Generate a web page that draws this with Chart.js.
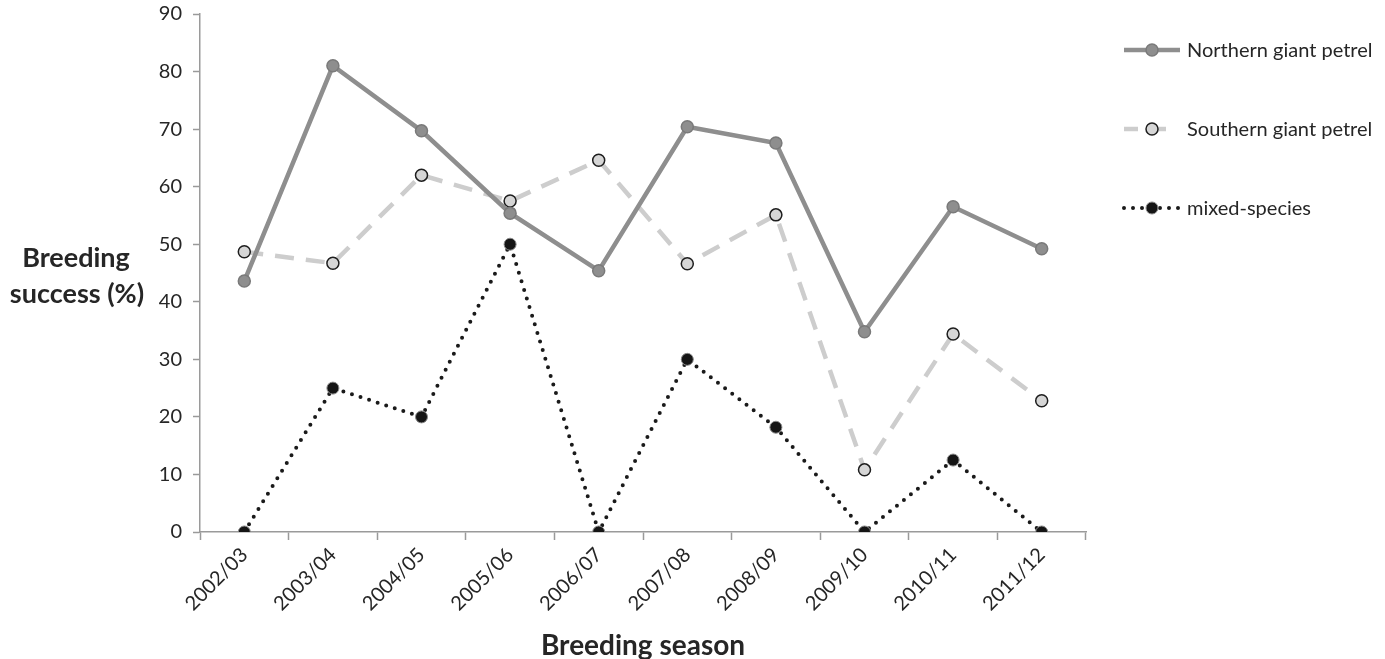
<!DOCTYPE html>
<html>
<head>
<meta charset="utf-8">
<script src="https://cdn.jsdelivr.net/npm/chart.js@4"></script>
<style>
  body { margin: 0; background: #fff; }
  #wrap { width: 1385px; height: 659px; position: relative; }
</style>
</head>
<body>
<div id="wrap"><canvas id="chart"></canvas></div>
<script>
const seasons = ['2002/03', '2003/04', '2004/05', '2005/06', '2006/07', '2007/08', '2008/09', '2009/10', '2010/11', '2011/12'];
const northern = [43.6, 81, 69.7, 55.4, 45.4, 70.4, 67.6, 34.8, 56.5, 49.2];
const southern = [48.7, 46.7, 62, 57.5, 64.6, 46.6, 55.1, 10.8, 34.4, 22.8];
const mixed = [0, 25, 20, 50, 0, 30, 18.2, 0, 12.5, 0];
const yTicks = [0, 10, 20, 30, 40, 50, 60, 70, 80, 90];

const FONT = 'Lato, "Open Sans", sans-serif';
const TEXT = '#262626';
const AXIS = '#9a9a9a';

// legend + horizontal y title, drawn by hand
const sidePlugin = {
  id: 'side',
  afterDraw(chart) {
    const ctx = chart.ctx;
    ctx.save();
    // y title
    ctx.fillStyle = TEXT;
    ctx.font = 'bold 27px ' + FONT;
    ctx.textAlign = 'center';
    ctx.textBaseline = 'middle';
    ctx.fillText('Breeding', 76, 258);
    ctx.fillText('success (%)', 77, 294);

    // legend
    const rows = [50, 129, 208];
    chart.data.datasets.forEach((ds, i) => {
      const y = rows[i];
      ctx.strokeStyle = ds.borderColor;
      ctx.lineWidth = ds.borderWidth;
      ctx.lineCap = ds.borderCapStyle || 'butt';
      ctx.setLineDash(ds.legendDash || ds.borderDash || []);
      ctx.beginPath();
      ctx.moveTo(1124, y);
      ctx.lineTo(1180, y);
      ctx.stroke();
      ctx.setLineDash([]);
      ctx.beginPath();
      ctx.arc(1152, y, ds.pointRadius, 0, Math.PI * 2);
      ctx.fillStyle = ds.pointBackgroundColor;
      ctx.fill();
      ctx.lineWidth = ds.pointBorderWidth;
      ctx.strokeStyle = ds.pointBorderColor;
      ctx.stroke();
      ctx.fillStyle = TEXT;
      ctx.font = '20px ' + FONT;
      ctx.textAlign = 'left';
      ctx.fillText(ds.label, 1187, y + 1);
    });
    ctx.restore();
  }
};

new Chart(document.getElementById('chart'), {
  type: 'line',
  data: {
    labels: seasons,
    datasets: [
      {
        label: 'Northern giant petrel',
        data: northern,
        borderColor: '#8e8e8e',
        borderWidth: 4.5,
        pointRadius: 6,
        pointBackgroundColor: '#8e8e8e',
        pointBorderColor: '#7a7a7a',
        pointBorderWidth: 1.5,
        tension: 0
      },
      {
        label: 'Southern giant petrel',
        data: southern,
        borderColor: '#cdcdcd',
        borderWidth: 4.5,
        borderDash: [19, 12],
        legendDash: [14, 14],
        pointRadius: 6,
        pointBackgroundColor: '#d6d6d6',
        pointBorderColor: '#1e1e1e',
        pointBorderWidth: 1.5,
        tension: 0
      },
      {
        label: 'mixed-species',
        data: mixed,
        borderColor: '#1a1a1a',
        borderWidth: 4,
        borderDash: [0, 9],
        borderCapStyle: 'round',
        pointRadius: 6,
        pointBackgroundColor: '#151515',
        pointBorderColor: '#888888',
        pointBorderWidth: 1,
        tension: 0
      }
    ]
  },
  options: {
    responsive: true,
    maintainAspectRatio: false,
    animation: false,
    layout: { padding: { top: 14, right: 299, left: 0, bottom: 0 } },
    plugins: {
      legend: { display: false },
      tooltip: { enabled: false }
    },
    scales: {
      x: {
        offset: true,
        grid: { offset: true, drawOnChartArea: false, color: AXIS, tickLength: 8, tickWidth: 1.5 },
        border: { color: AXIS, width: 1.5 },
        ticks: {
          minRotation: 45, maxRotation: 45, autoSkip: false,
          color: TEXT, font: { family: FONT, size: 20 }, padding: 3
        },
        title: {
          display: true, text: 'Breeding season', color: TEXT,
          font: { family: FONT, size: 28, weight: 'bold' }, padding: { top: 0, bottom: -4 }
        },
        afterFit(scale) { scale.height = 127; }
      },
      y: {
        min: 0, max: 90,
        afterBuildTicks(scale) { scale.ticks = yTicks.map(v => ({ value: v })); },
        grid: { drawOnChartArea: false, color: AXIS, tickLength: 7, tickWidth: 1.5 },
        border: { color: AXIS, width: 1.5 },
        ticks: { color: TEXT, font: { family: FONT, size: 20 }, padding: 11 },
        afterFit(scale) {
          scale.width = 200;
          scale.paddingTop = 0;
          scale.paddingBottom = 0;
        }
      }
    }
  },
  plugins: [sidePlugin]
});
</script>
</body>
</html>
